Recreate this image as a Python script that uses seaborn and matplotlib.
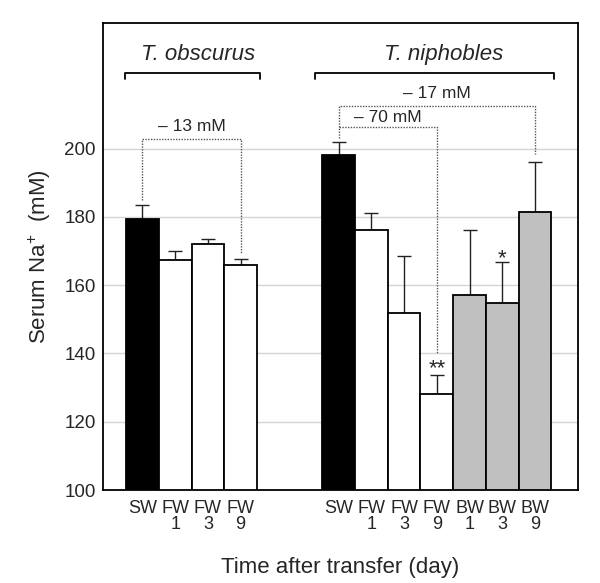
import numpy as np
import pandas as pd
import seaborn as sns
import matplotlib.pyplot as plt

# 数据
species = ["T. obscurus", "T. niphobles"]
labels_obscurus = ["SW", "FW\n1", "FW\n3", "FW\n9"]
labels_niphobles = ["SW", "FW\n1", "FW\n3", "FW\n9", "BW\n1", "BW\n3", "BW\n9"]
mean_obscurus = [179.3, 167.4, 172.2, 165.9]
mean_niphobles = [198.1, 176.1, 152.0, 128.0, 157.1, 154.8, 181.3]
se_obscurus = [4.1, 2.5, 1.3, 1.8]
se_niphobles = [3.9, 5.0, 16.5, 5.7, 19.1, 12.0, 14.9]
diff_labels = ["– 13 mM", "– 70 mM", "– 17 mM"]

sns.set_theme(style="white")
plt.rcParams['font.family'] = ['Liberation Sans', 'DejaVu Sans']
plt.rcParams['mathtext.fontset'] = 'custom'
plt.rcParams['mathtext.rm'] = 'Liberation Sans'
plt.rcParams['mathtext.it'] = 'Liberation Sans:italic'

labels = labels_obscurus + labels_niphobles
means = mean_obscurus + mean_niphobles
ses = se_obscurus + se_niphobles
gap = 2
pos = list(range(len(labels_obscurus))) + \
    [len(labels_obscurus) + gap + i for i in range(len(labels_niphobles))]
group = [l[:2] for l in labels]

df = pd.DataFrame({'pos': pos, 'mean': means, 'se': ses, 'group': group})

fig = plt.figure(figsize=(6, 5.83), dpi=100)
ax = fig.add_axes([0.171, 0.1595, 0.792, 0.801])

for y in [120, 140, 160, 180, 200]:
    ax.axhline(y, color='#d4d4d4', lw=1, zorder=0)

sns.barplot(data=df, x='pos', y='mean', hue='group', native_scale=True,
            dodge=False, width=1.0, palette={'SW': 'black', 'FW': 'white', 'BW': '#c0c0c0'},
            edgecolor='black', linewidth=1.3, legend=False, errorbar=None, ax=ax, zorder=2)

ax.errorbar(df['pos'], df['mean'], yerr=[np.zeros(len(df)), df['se']], fmt='none',
            ecolor='#222222', elinewidth=1, capsize=4.7, capthick=1, zorder=1)

ax.set_xlim(-1.22, 13.31)
ax.set_ylim(100, 236.8)
ax.set_yticks([100, 120, 140, 160, 180, 200])
ax.set_xticks(pos)
ax.set_xticklabels(labels, fontsize=13, linespacing=0.95)
ax.tick_params(axis='x', length=0, pad=7)
ax.tick_params(axis='y', direction='in', length=5, color='#888888', labelsize=13.5, pad=5)
for s in ax.spines.values():
    s.set_color('black')
    s.set_linewidth(1.3)

ax.set_xlabel('Time after transfer (day)', fontsize=16, labelpad=17)
ax.set_ylabel('Serum Na$^{+}$  (mM)', fontsize=16, labelpad=8)

# 物种括号
kw = dict(color='black', lw=1.3, clip_on=False)
ax.plot([-0.54, -0.54, 3.58, 3.58], [220.3, 222.2, 222.2, 220.3], **kw)
ax.plot([5.26, 5.26, 12.57, 12.57], [220.3, 222.2, 222.2, 220.3], **kw)
ax.text(1.7, 227.6, species[0], style='italic', fontsize=16, ha='center', va='center')
ax.text(9.2, 227.6, species[1], style='italic', fontsize=16, ha='center', va='center')

# 差值虚线
dk = dict(color='#555555', lw=1, ls=(0, (1, 1)), zorder=3)
ax.plot([0, 0, 3, 3], [185, 202.9, 202.9, 169.5], **dk)
ax.text(1.5, 206.4, diff_labels[0], fontsize=12.5, ha='center', va='center')
ax.plot([6, 6, 9, 9], [203.2, 206.2, 206.2, 140.0], **dk)
ax.plot([6, 6, 12, 12], [206.2, 212.5, 212.5, 198.5], **dk)
ax.text(7.5, 209.1, diff_labels[1], fontsize=12.5, ha='center', va='center')
ax.text(9.0, 216.3, diff_labels[2], fontsize=12.5, ha='center', va='center')

ax.text(9, 135.6, '**', fontsize=16, ha='center', va='center')
ax.text(11, 167.8, '*', fontsize=16, ha='center', va='center')

fig.savefig('out.png', dpi=100)
